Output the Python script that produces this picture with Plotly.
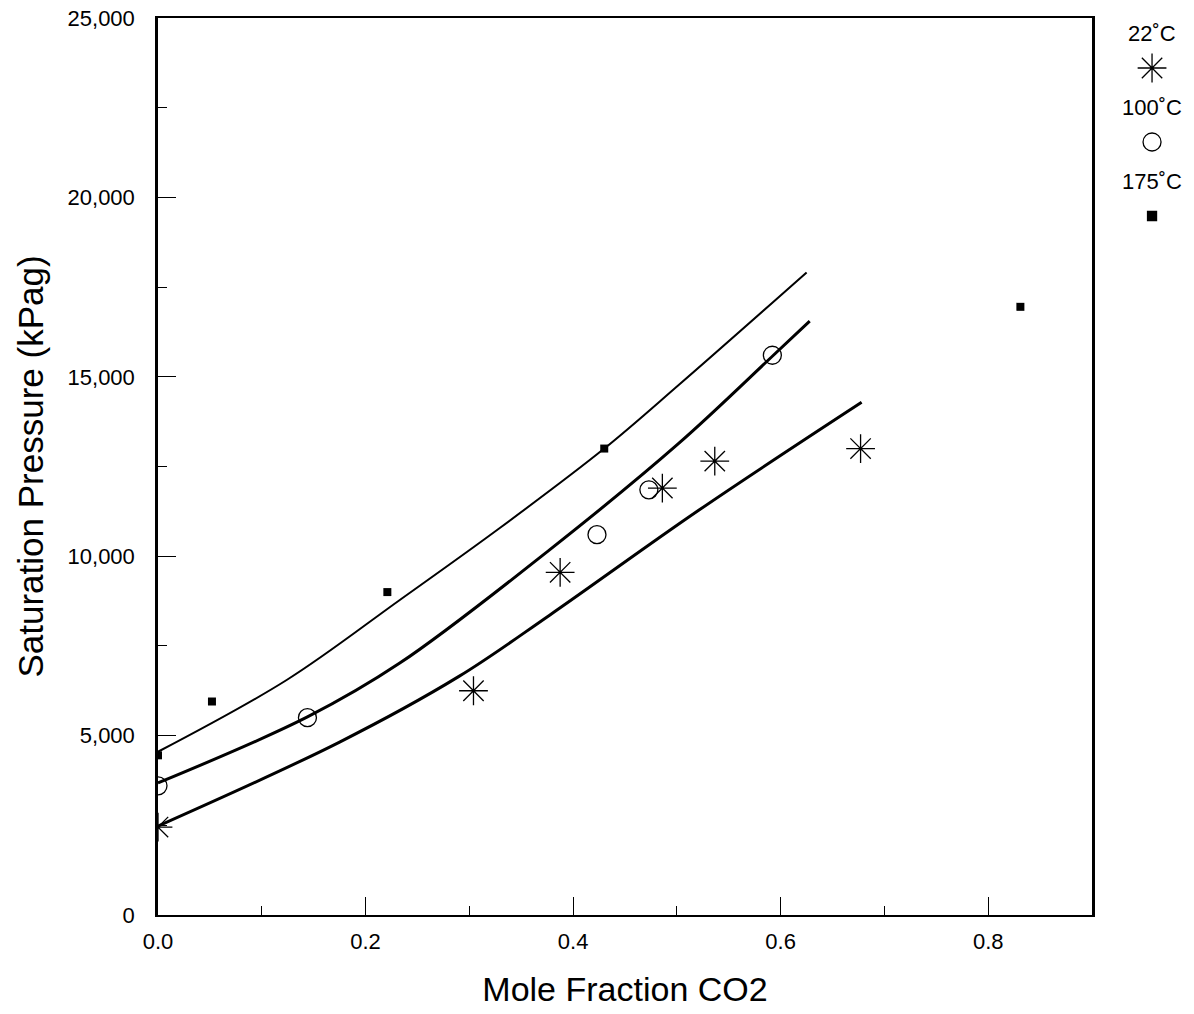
import plotly.graph_objects as go

# ---- data ----
x_22 = [0.0, 0.304, 0.3875, 0.486, 0.5365, 0.677]
y_22 = [2450, 6250, 9550, 11900, 12650, 13000]

x_100 = [0.0, 0.144, 0.423, 0.473, 0.592]
y_100 = [3600, 5500, 10600, 11850, 15600]

x_175 = [0.0, 0.052, 0.221, 0.430, 0.831]
y_175 = [4450, 5950, 9000, 13000, 16950]

# model curves
cx_22 = [0.0, 0.175, 0.29, 0.377, 0.521, 0.678]
cy_22 = [2480, 4820, 6650, 8350, 11280, 14290]

cx_100 = [0.0, 0.144, 0.233, 0.377, 0.502, 0.593, 0.628]
cy_100 = [3680, 5520, 7020, 10170, 13150, 15600, 16550]

cx_175 = [0.0, 0.124, 0.233, 0.33, 0.43, 0.502, 0.625]
cy_175 = [4550, 6550, 8780, 10800, 13000, 14780, 17910]

legend_labels = ["22\u02daC", "100\u02daC", "175\u02daC"]
legend_index = [0, 1, 2]

x_ticks = [0.0, 0.2, 0.4, 0.6, 0.8]
x_ticktext = ["0.0", "0.2", "0.4", "0.6", "0.8"]
y_ticks = [0, 5000, 10000, 15000, 20000, 25000]

FONT = "Liberation Sans, Arial, sans-serif"
BLACK = "#000000"

fig = go.Figure()

# curves
fig.add_trace(go.Scatter(x=cx_175, y=cy_175, mode="lines",
                         line=dict(color=BLACK, width=2, shape="spline", smoothing=1.0),
                         showlegend=False, hoverinfo="skip"))
fig.add_trace(go.Scatter(x=cx_100, y=cy_100, mode="lines",
                         line=dict(color=BLACK, width=3, shape="spline", smoothing=1.0),
                         showlegend=False, hoverinfo="skip"))
fig.add_trace(go.Scatter(x=cx_22, y=cy_22, mode="lines",
                         line=dict(color=BLACK, width=3, shape="spline", smoothing=1.0),
                         showlegend=False, hoverinfo="skip"))

# markers
fig.add_trace(go.Scatter(x=x_22, y=y_22, mode="markers",
                         marker=dict(symbol="asterisk-open", size=24, color=BLACK, line=dict(color=BLACK, width=1.3)),
                         showlegend=False))
fig.add_trace(go.Scatter(x=x_100, y=y_100, mode="markers",
                         marker=dict(symbol="circle-open", size=18, color=BLACK, line=dict(color=BLACK, width=1.3)),
                         showlegend=False))
fig.add_trace(go.Scatter(x=x_175, y=y_175, mode="markers",
                         marker=dict(symbol="square", size=8, color=BLACK),
                         showlegend=False))

# legend-style key on a separate hidden axis
key_syms = ["asterisk-open", "circle-open", "square"]
key_sizes = [24, 18, 9]
for i, (sym, sz) in enumerate(zip(key_syms, key_sizes)):
    fig.add_trace(go.Scatter(x=[0], y=[legend_index[i]], xaxis="x2", yaxis="y2", mode="markers",
                             marker=dict(symbol=sym, size=sz, color=BLACK, line=dict(color=BLACK, width=1.3)),
                             showlegend=False, hoverinfo="skip", cliponaxis=False))
    fig.add_annotation(x=0, y=legend_index[i] - 0.47, xref="x2", yref="y2", text=legend_labels[i],
                       showarrow=False, font=dict(family=FONT, size=22, color=BLACK),
                       xanchor="center", yanchor="middle")

plot_w = 1194 - 158
fig.update_layout(
    width=1194, height=1014,
    margin=dict(l=158, r=0, t=18, b=99),
    paper_bgcolor="white", plot_bgcolor="white",
    font=dict(family=FONT, color=BLACK),
    xaxis=dict(
        domain=[0, 934 / plot_w],
        range=[0, 0.9], tickvals=x_ticks, ticktext=x_ticktext,
        ticks="inside", ticklen=18, tickwidth=1.3, tickcolor=BLACK,
        minor=dict(dtick=0.1, tick0=0, ticks="inside", ticklen=9, tickcolor=BLACK, tickwidth=1.3),
        showline=True, linecolor=BLACK, linewidth=2, mirror=True,
        showgrid=False, zeroline=False,
        tickfont=dict(family=FONT, size=22, color=BLACK),
        ticklabelstandoff=6,
        title=dict(text="Mole Fraction CO2", font=dict(family=FONT, size=34, color=BLACK), standoff=24),
    ),
    yaxis=dict(
        range=[0, 25000], tickvals=y_ticks, tickformat=",d",
        ticks="inside", ticklen=18, tickwidth=1.3, tickcolor=BLACK,
        minor=dict(dtick=2500, tick0=0, ticks="inside", ticklen=9, tickcolor=BLACK, tickwidth=1.3),
        showline=True, linecolor=BLACK, linewidth=2.5, mirror=True,
        showgrid=False, zeroline=False,
        tickfont=dict(family=FONT, size=22, color=BLACK),
        ticklabelstandoff=16,
        title=dict(text="Saturation Pressure (kPag)", font=dict(family=FONT, size=35, color=BLACK), standoff=14),
    ),
    xaxis2=dict(domain=[0.93, 0.989], range=[-1, 1], visible=False, anchor="y2", fixedrange=True),
    yaxis2=dict(domain=[0, 1], range=[(915 - 18 - 50) / 74, -50 / 74], visible=False, anchor="x2", fixedrange=True),
)

fig.write_html("out.html")
